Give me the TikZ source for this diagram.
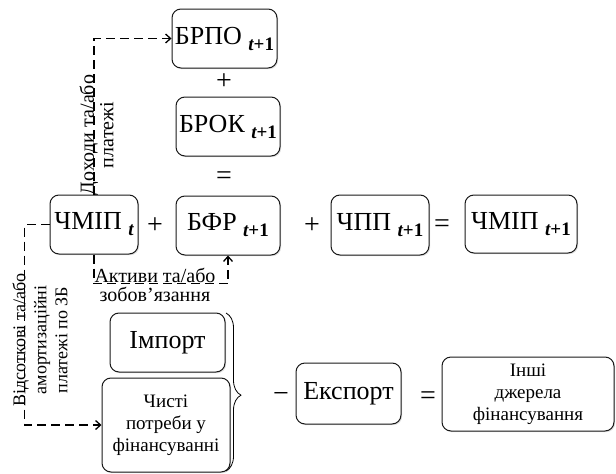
\documentclass[tikz,border=0pt]{standalone}
\usepackage{fontspec}
\setmainfont{Liberation Serif}
\usetikzlibrary{arrows.meta,shadows,decorations.pathreplacing,calc}
% bold subscript "t+1" set low after a symbol
\newcommand{\tsub}[1]{\raisebox{-6pt}{\fontsize{19}{19}\selectfont\bfseries #1}}
\newcommand{\tnext}{\tsub{\itshape t\upshape +1}}
\newcommand{\tcur}{\tsub{\itshape t}}

\begin{document}
\begin{tikzpicture}[x=1pt,y=-1pt,
  box/.style={draw=black!90, line width=1pt, rounded corners=9pt, fill=white,
    drop shadow={opacity=0.25, shadow xshift=1.2pt, shadow yshift=-1.2pt},
    inner sep=2pt, align=center, text=black},
  big/.style={font=\fontsize{26}{30}\selectfont},
  mid/.style={font=\fontsize{19}{22}\selectfont},
  op/.style={font=\fontsize{28}{28}\selectfont, inner sep=0pt},
  lbl/.style={font=\fontsize{20}{19.5}\selectfont, align=center, inner sep=0pt},
  flow/.style={line width=1.3pt, dash pattern=on 9pt off 5pt,
    -{Straight Barb[length=5pt,width=9pt]}}
]
\useasboundingbox (0,0) rectangle (616,474);

% balance boxes
\node[box,big,minimum width=105pt,minimum height=59pt] (brpo) at (224.5,38.5) {БРПО \tnext};
\node[box,big,minimum width=104pt,minimum height=59pt] (brok) at (228,126.5) {БРОК \tnext};
\node[box,big,minimum width=88pt,minimum height=59pt] (chmipt) at (94,224.5) {ЧМІП \tcur};
\node[box,big,minimum width=104pt,minimum height=59pt] (bfr) at (228,225.5) {БФР \tnext};
\node[box,big,minimum width=98pt,minimum height=60pt] (chpp) at (380,225) {ЧПП \tnext};
\node[box,big,minimum width=112pt,minimum height=58pt] (chmip1) at (521,224) {ЧМІП \tnext};

% financing boxes
\node[box,big,minimum width=115pt,minimum height=59pt] (import) at (167.5,342.5) {Імпорт};
\node[box,mid,minimum width=128pt,minimum height=94pt] (needs) at (166,425) {Чисті\\потреби у\\фінансуванні};
\node[box,big,minimum width=105pt,minimum height=61pt] (export) at (348.5,393.5) {Експорт};
\node[box,mid,minimum width=172pt,minimum height=74pt] (other) at (528,394) {Інші\\джерела\\фінансування};

% operators
\node[op] (p1) at (224,82) {+};
\node[op] (e1) at (224,178) {=};
\node[op] (p2) at (155,226) {+};
\node[op] (p3) at (312,226) {+};
\node[op] (e2) at (442,226) {=};
\node[op] (m1) at (281,397) {−};
\node[op] (e3) at (428,398) {=};

% brace over import and needs
\draw[line width=0.8pt, decorate, decoration={brace, amplitude=15pt, aspect=0.52}]
  (226,313) -- (226,471);

% flows out of the starting position
\draw[flow] (chmipt.north) |- (brpo.west);
\draw[flow] (chmipt.south) -- ++(0,29) coordinate (lowturn) -| (bfr.south);
\draw[flow] (chmipt.west) -- ++(-25,0) coordinate (leftturn) |- (needs.west);

% flow labels
\node[lbl, rotate=90] (inc) at (96.5,135) {Доходи та/або\\платежі};
\node[lbl] (assets) at (155,285) {Активи та/або\\зобов'язання};
\node[lbl, rotate=90, font=\fontsize{18}{21}\selectfont] (pay) at (40,340) {Відсоткові та/або\\амортизаційні\\платежі по ЗБ};
\end{tikzpicture}
\end{document}
